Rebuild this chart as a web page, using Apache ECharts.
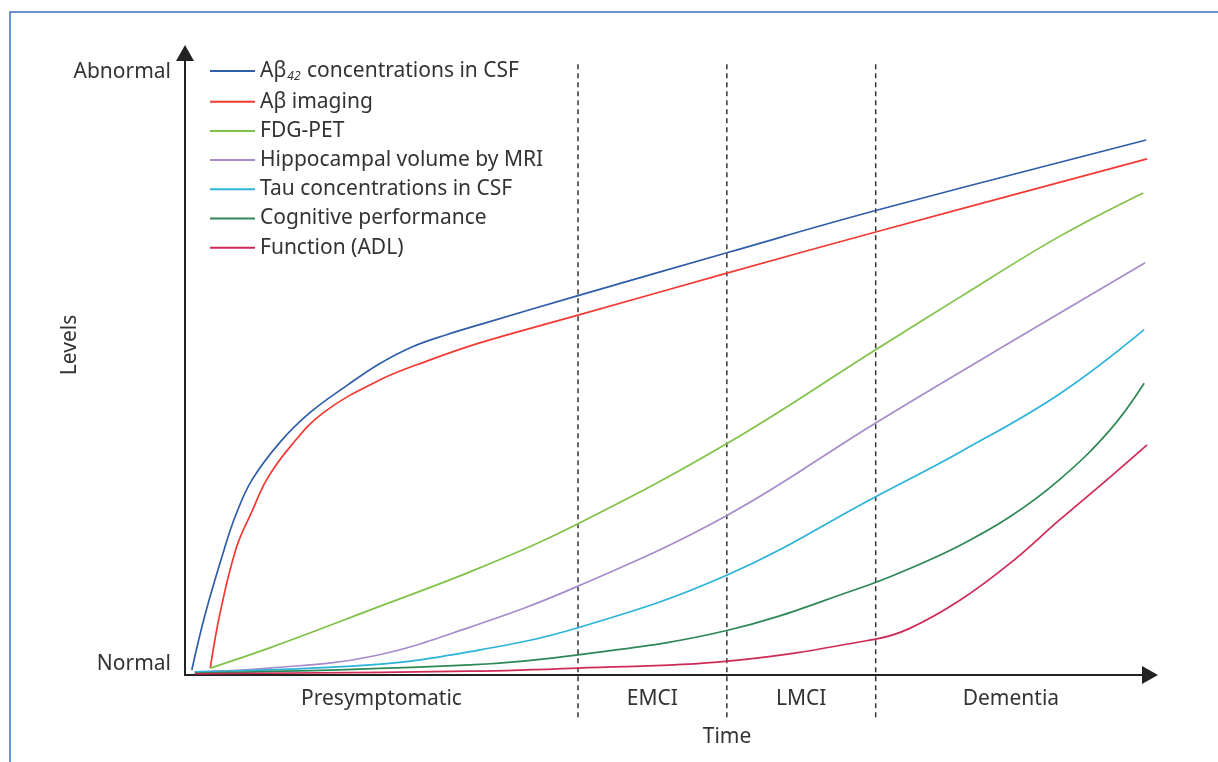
<!DOCTYPE html>
<html>
<head>
<meta charset="utf-8">
<title>Biomarker trajectories</title>
<script src="https://cdn.jsdelivr.net/npm/echarts@6/dist/echarts.min.js"></script>
<style>
  html, body { margin: 0; padding: 0; background: #fff; }
  #chart { width: 1218px; height: 762px; }
</style>
</head>
<body>
<div id="chart"></div>
<script>
// data, x = time (0..100), y = level (0 = normal)
var seriesNames = [
  "Aβ42 concentrations in CSF",
  "Aβ imaging",
  "FDG-PET",
  "Hippocampal volume by MRI",
  "Tau concentrations in CSF",
  "Cognitive performance",
  "Function (ADL)"
];
var seriesColors = ["#2f5daa", "#f23a32", "#80c247", "#a68ccb", "#2bb3d9", "#2e8856", "#cf2a55"];

var abCsf = [[0.7, 0.8], [2.1, 9.8], [4.1, 20.3], [5.3, 25.7], [6.9, 31.0], [9.8, 37.0], [12.9, 41.7],
  [16.7, 46.0], [20.0, 49.4], [23.4, 52.1], [26.9, 54.0], [30.3, 55.6], [40.4, 60.2], [55.7, 67.0],
  [71.0, 73.7], [98.8, 84.9]];
var abImaging = [[2.6, 1.1], [3.6, 9.8], [5.3, 20.3], [6.9, 26.0], [8.4, 31.0], [10.8, 36.2],
  [14.2, 41.6], [20.0, 46.8], [25.2, 50.0], [30.3, 52.7], [40.4, 57.1], [55.8, 63.8], [71.0, 70.3],
  [98.9, 81.9]];
var fdgPet = [[2.6, 1.1], [8.7, 4.3], [19.0, 10.3], [30.3, 17.0], [40.4, 24.0], [55.8, 36.8],
  [71.0, 51.6], [79.7, 60.0], [89.9, 69.6], [98.5, 76.5]];
var hippoMri = [[1.0, 0.5], [8.7, 1.1], [19.0, 2.9], [29.3, 7.6], [40.4, 14.1], [55.8, 25.4],
  [71.0, 40.0], [86.5, 54.3], [98.7, 65.4]];
var tauCsf = [[1.0, 0.5], [19.0, 1.6], [29.3, 3.7], [40.4, 7.5], [55.8, 15.9], [71.0, 28.3],
  [79.7, 35.4], [89.9, 44.6], [98.6, 54.8]];
var cognition = [[1.0, 0.3], [29.3, 1.6], [40.4, 3.2], [55.8, 7.1], [69.4, 13.8], [74.5, 16.9],
  [79.7, 20.6], [84.8, 25.1], [89.9, 31.0], [95.1, 38.9], [98.6, 46.3]];
var adl = [[1.0, 0.2], [29.3, 0.6], [40.4, 1.1], [55.8, 2.2], [71.0, 5.7], [74.5, 7.4],
  [79.7, 11.9], [84.8, 17.7], [89.9, 24.6], [95.1, 31.4], [98.9, 36.5]];

var phaseNames = ["Presymptomatic", "EMCI", "LMCI", "Dementia"];
var phaseBounds = [0, 40.4, 55.7, 71.0, 98.8];
var levelNames = ["Normal", "Abnormal"];
var levelValues = [1.7, 95.7];

var allData = [abCsf, abImaging, fdgPet, hippoMri, tauCsf, cognition, adl];

var phaseMids = [];
for (var i = 0; i < phaseNames.length; i++) {
  phaseMids.push((phaseBounds[i] + phaseBounds[i + 1]) / 2);
}

function nearestIndex(arr, v) {
  var best = 0;
  for (var k = 1; k < arr.length; k++) {
    if (Math.abs(arr[k] - v) < Math.abs(arr[best] - v)) best = k;
  }
  return best;
}

var font = "Noto Sans";
var textColor = "#333";
var fs = 21;

var series = seriesNames.map(function (name, idx) {
  return {
    name: name,
    type: "line",
    data: allData[idx],
    smooth: 0.4,
    symbol: "none",
    color: seriesColors[idx],
    lineStyle: { width: 1.7, color: seriesColors[idx] },
    z: 3
  };
});

// dashed phase boundaries, running a bit below the time axis
phaseBounds.slice(1, 4).forEach(function (b) {
  series.push({
    type: "line",
    data: [[b, -6.7], [b, 97.3]],
    symbol: "none",
    clip: false,
    silent: true,
    color: "#333",
    lineStyle: { type: [5, 4], width: 1.5, color: "#333" },
    z: 1
  });
});

var chart = echarts.init(document.getElementById("chart"));
chart.setOption({
  backgroundColor: "#fff",
  animation: false,
  textStyle: { fontFamily: font },
  graphic: [{
    type: "rect",
    shape: { x: 10, y: 12, width: 1240, height: 780 },
    style: { fill: "none", stroke: "#3b6fc2", lineWidth: 1.5 },
    silent: true
  }],
  legend: {
    data: seriesNames,
    orient: "vertical",
    left: 205,
    top: 54,
    icon: "rect",
    itemWidth: 45,
    itemHeight: 2,
    itemGap: 8.2,
    formatter: function (name) {
      if (name.indexOf("Aβ42") === 0) {
        return "{t|Aβ}{s|42}{t|" + name.slice(4) + "}";
      }
      return "{t|" + name + "}";
    },
    textStyle: {
      rich: {
        t: { fontSize: fs, color: textColor, fontFamily: font, lineHeight: 24 },
        s: { fontSize: 12, color: textColor, fontFamily: font, fontStyle: "italic", lineHeight: 12, verticalAlign: "bottom", padding: [12, 1, 0, 1] }
      }
    }
  },
  grid: { left: 185, right: 68, top: 53, bottom: 87 },
  xAxis: {
    type: "value",
    min: 0,
    max: 99.2,
    name: "Time",
    nameLocation: "middle",
    nameGap: 52,
    nameTextStyle: { fontSize: fs, color: textColor, padding: [0, 0, 0, 119] },
    axisLine: {
      show: true,
      symbol: ["none", "triangle"],
      symbolSize: [18, 16],
      lineStyle: { color: "#222", width: 2 }
    },
    axisTick: { show: false },
    splitLine: { show: false },
    axisLabel: {
      customValues: phaseMids,
      margin: 14,
      fontSize: fs,
      color: textColor,
      formatter: function (v) { return phaseNames[nearestIndex(phaseMids, v)]; }
    }
  },
  yAxis: {
    type: "value",
    min: 0,
    max: 98.7,
    name: "Levels",
    nameLocation: "middle",
    nameRotate: 90,
    nameGap: 104,
    nameMoveOverlap: false,
    nameTextStyle: { fontSize: fs, color: textColor, padding: [0, 0, 0, 38] },
    axisLine: {
      show: true,
      symbol: ["none", "triangle"],
      symbolSize: [18, 16],
      lineStyle: { color: "#222", width: 2 }
    },
    axisTick: { show: false },
    splitLine: { show: false },
    axisLabel: {
      customValues: levelValues,
      margin: 14,
      fontSize: fs,
      color: textColor,
      formatter: function (v) { return levelNames[nearestIndex(levelValues, v)]; }
    }
  },
  series: series
});
</script>
</body>
</html>
